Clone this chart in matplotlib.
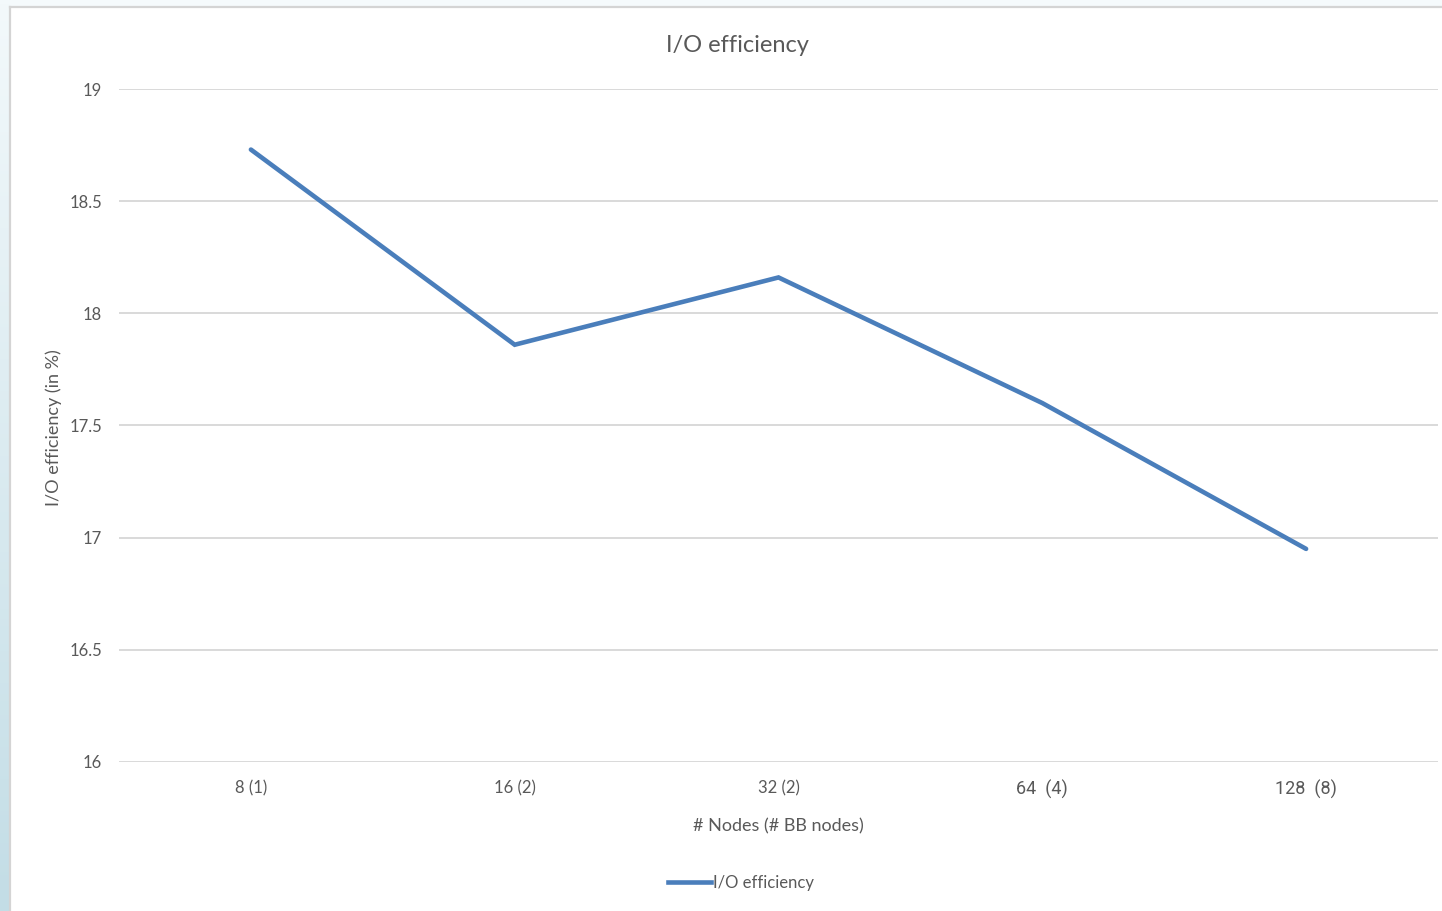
import numpy as np
import matplotlib
matplotlib.use("Agg")
import matplotlib.pyplot as plt
from matplotlib.lines import Line2D

# Data
categories = ["8 (1)", "16 (2)", "32 (2)", "64  (4)", "128  (8)"]
efficiency = [18.73, 17.86, 18.16, 17.60, 16.95]
y_ticks = [16, 16.5, 17, 17.5, 18, 18.5, 19]
y_tick_labels = ["16", "16.5", "17", "17.5", "18", "18.5", "19"]

W, H = 1442, 911
fig = plt.figure(figsize=(W / 100, H / 100), dpi=100)
fig.patch.set_facecolor("#f5fafc")

# Slide background strip on the left with a soft vertical gradient
strip = fig.add_axes([0, 0, 10 / W, 1])
grad = np.linspace(0, 1, 256).reshape(-1, 1)
cmap = matplotlib.colors.LinearSegmentedColormap.from_list("strip", ["#c3dde6", "#f3f9fb"])
strip.imshow(grad, aspect="auto", cmap=cmap, origin="lower", extent=[0, 1, 0, 1])
strip.set_axis_off()

# Chart area (white with thin grey border)
chart_bg = fig.add_axes([10 / W, 0, (W - 10) / W, (H - 7) / H])
chart_bg.set_facecolor("white")
chart_bg.set_xticks([])
chart_bg.set_yticks([])
for side, sp in chart_bg.spines.items():
    sp.set_color("#d4d4d4")
    sp.set_linewidth(1.6)
    if side in ("right", "bottom"):
        sp.set_visible(False)
chart_bg.set_zorder(0)

font = "Lato"
grey = "#595959"
line_color = "#4a7ebb"

ax = fig.add_axes([119 / W, (H - 762) / H, (1438 - 119) / W, (762 - 89) / H])
ax.set_zorder(2)
ax.patch.set_alpha(0)
x = np.arange(len(categories))
ax.plot(x, efficiency, color=line_color, lw=3.3, solid_capstyle="round",
        solid_joinstyle="miter", zorder=3)

ax.set_xlim(-0.5, len(categories) - 0.5)
ax.set_ylim(16, 19)
ax.set_yticks(y_ticks)
ax.set_yticklabels(y_tick_labels, fontname=font, fontsize=12, color=grey)
ax.yaxis.grid(True, color="#d9d9d9", lw=1.4)
ax.set_axisbelow(True)
ax.set_xticks(x)
ax.set_xticklabels(categories, color=grey)
for i, lab in enumerate(ax.get_xticklabels()):
    if i >= 3:
        lab.set_fontfamily("Roboto")
        lab.set_fontsize(13)
    else:
        lab.set_fontfamily(font)
        lab.set_fontsize(12)
ax.tick_params(axis="both", length=0)
ax.tick_params(axis="y", pad=12)
ax.tick_params(axis="x", pad=13)
for sp in ax.spines.values():
    sp.set_visible(False)

fig.text(737 / W, (H - 45) / H, "I/O efficiency", fontname=font, fontsize=17,
         color=grey, ha="center", va="center")
ax.set_xlabel("# Nodes (# BB nodes)", fontname=font, fontsize=13, color=grey, labelpad=14)
ax.set_ylabel("I/O efficiency (in %)", fontname=font, fontsize=13, color=grey)
ax.yaxis.set_label_coords((62 - 119) / (1438 - 119), 0.497)

# Legend below the plot
fig.legend(handles=[Line2D([0], [0], color=line_color, lw=3.3)],
           labels=["I/O efficiency"], loc="center",
           bbox_to_anchor=(741 / W, (H - 883) / H),
           frameon=False, handlelength=2.6, handletextpad=0.1,
           prop={"family": font, "size": 12}, labelcolor=grey)

fig.savefig("out.png", dpi=100, facecolor=fig.get_facecolor())
